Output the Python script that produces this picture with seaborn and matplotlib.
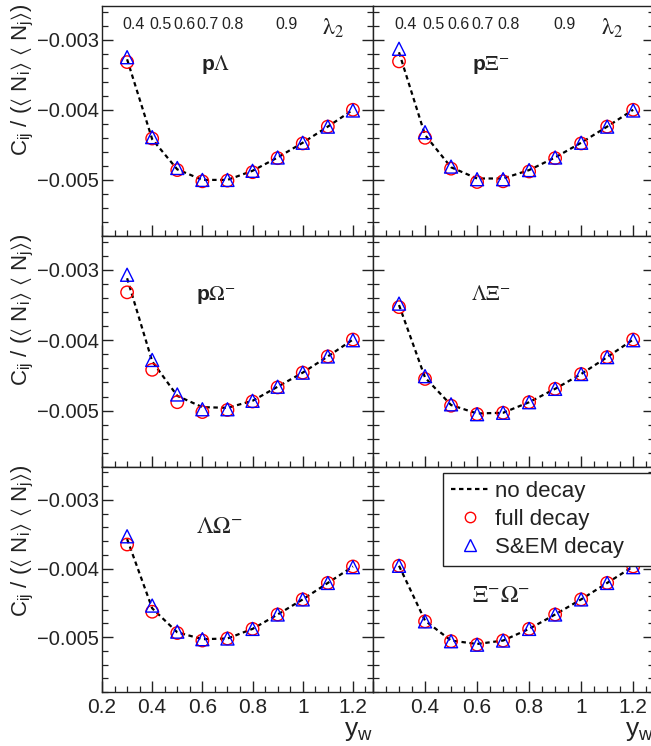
import numpy as np
import pandas as pd
import matplotlib
matplotlib.use("Agg")
import matplotlib.pyplot as plt
import seaborn as sns
from matplotlib.ticker import MultipleLocator, FuncFormatter, FixedLocator
from matplotlib.lines import Line2D
import matplotlib.transforms as mtransforms

sns.set_theme(style="white")
plt.rcParams["font.family"] = ["Liberation Sans", "DejaVu Sans"]
plt.rcParams["mathtext.fontset"] = "custom"
plt.rcParams["mathtext.rm"] = "Liberation Sans"
plt.rcParams["mathtext.it"] = "Liberation Sans:italic"
plt.rcParams["mathtext.bf"] = "Liberation Sans:bold"
plt.rcParams["mathtext.fallback"] = "stix"

# ---------------- data ----------------
y_w = [0.3, 0.4, 0.5, 0.6, 0.7, 0.8, 0.9, 1.0, 1.1, 1.2]

pair_labels = ["p$\\Lambda$", "p$\\Xi^{-}$", "p$\\Omega^{-}$",
               "$\\Lambda\\Xi^{-}$", "$\\Lambda\\Omega^{-}$", "$\\Xi^{-}\\Omega^{-}$"]

# p Lambda
pL_nodecay = [-0.00328, -0.00442, -0.00485, -0.00500, -0.00500, -0.00487, -0.00468, -0.00447, -0.00424, -0.00400]
pL_full    = [-0.00332, -0.00441, -0.00486, -0.00502, -0.00501, -0.00489, -0.00469, -0.00448, -0.00424, -0.00400]
pL_sem     = [-0.00325, -0.00439, -0.00483, -0.00500, -0.00500, -0.00487, -0.00468, -0.00447, -0.00424, -0.00401]
# p Xi-
pXi_nodecay = [-0.00318, -0.00436, -0.00482, -0.00498, -0.00498, -0.00486, -0.00468, -0.00447, -0.00424, -0.00400]
pXi_full    = [-0.00331, -0.00440, -0.00484, -0.00503, -0.00502, -0.00488, -0.00469, -0.00448, -0.00424, -0.00400]
pXi_sem     = [-0.00313, -0.00432, -0.00481, -0.00499, -0.00499, -0.00486, -0.00468, -0.00447, -0.00424, -0.00401]
# p Omega-
pO_nodecay = [-0.00312, -0.00430, -0.00479, -0.00495, -0.00496, -0.00486, -0.00466, -0.00446, -0.00423, -0.00399]
pO_full    = [-0.00332, -0.00442, -0.00488, -0.00502, -0.00499, -0.00487, -0.00467, -0.00446, -0.00423, -0.00399]
pO_sem     = [-0.00307, -0.00428, -0.00477, -0.00498, -0.00498, -0.00486, -0.00466, -0.00446, -0.00423, -0.00400]
# Lambda Xi-
LXi_nodecay = [-0.00350, -0.00453, -0.00492, -0.00504, -0.00503, -0.00488, -0.00469, -0.00448, -0.00424, -0.00399]
LXi_full    = [-0.00353, -0.00455, -0.00493, -0.00505, -0.00503, -0.00488, -0.00469, -0.00448, -0.00424, -0.00399]
LXi_sem     = [-0.00348, -0.00451, -0.00491, -0.00505, -0.00503, -0.00488, -0.00469, -0.00448, -0.00424, -0.00400]
# Lambda Omega-
LO_nodecay = [-0.00357, -0.00458, -0.00493, -0.00503, -0.00502, -0.00488, -0.00467, -0.00445, -0.00421, -0.00397]
LO_full    = [-0.00365, -0.00463, -0.00494, -0.00505, -0.00502, -0.00488, -0.00467, -0.00445, -0.00421, -0.00397]
LO_sem     = [-0.00353, -0.00454, -0.00492, -0.00503, -0.00502, -0.00488, -0.00467, -0.00445, -0.00421, -0.00398]
# Xi- Omega-
XO_nodecay = [-0.00396, -0.00476, -0.00505, -0.00510, -0.00505, -0.00488, -0.00467, -0.00445, -0.00421, -0.00397]
XO_full    = [-0.00396, -0.00477, -0.00506, -0.00511, -0.00505, -0.00488, -0.00467, -0.00445, -0.00421, -0.00397]
XO_sem     = [-0.00396, -0.00477, -0.00506, -0.00511, -0.00505, -0.00488, -0.00467, -0.00445, -0.00421, -0.00398]

nodecay = [pL_nodecay, pXi_nodecay, pO_nodecay, LXi_nodecay, LO_nodecay, XO_nodecay]
full = [pL_full, pXi_full, pO_full, LXi_full, LO_full, XO_full]
sem = [pL_sem, pXi_sem, pO_sem, LXi_sem, LO_sem, XO_sem]

lambda2_labels = ["0.4", "0.5", "0.6", "0.7", "0.8", "0.9"]
lambda2_pos = [0.324, 0.433, 0.527, 0.620, 0.720, 0.935]

rows = []
for k in range(6):
    for i, x in enumerate(y_w):
        rows.append(dict(panel=k, y_w=x, nodecay=nodecay[k][i], full=full[k][i], sem=sem[k][i]))
df = pd.DataFrame(rows)

# ---------------- figure ----------------
W, H = 651, 746
fig = plt.figure(figsize=(W / 100, H / 100), dpi=100)

col_x = [(102, 373), (373, 654)]
row_y = [(6, 236), (236, 467), (467, 692)]

def fmt_y(v, pos):
    return ("%.3f" % v).replace("-", "\u2212")

def fmt_x(v, pos):
    return "%g" % round(v, 3)

axes = []
for r in range(3):
    for c in range(2):
        k = r * 2 + c
        x0, x1 = col_x[c]
        y0, y1 = row_y[r]
        ax = fig.add_axes([x0 / W, 1 - y1 / H, (x1 - x0) / W, (y1 - y0) / H])
        axes.append(ax)
        d = df[df.panel == k]
        sns.lineplot(data=d, x="y_w", y="nodecay", ax=ax, color="black",
                     linestyle=(0, (2.0, 1.6)), linewidth=1.6, zorder=2)
        sns.scatterplot(data=d, x="y_w", y="full", ax=ax, marker="o", s=80,
                        facecolor="none", edgecolor="#ff0000", linewidth=1.0, zorder=3)
        sns.scatterplot(data=d, x="y_w", y="sem", ax=ax, marker="^", s=88,
                        facecolor="none", edgecolor="#0000ff", linewidth=1.0, zorder=4)
        ax.set_xlim(0.2, 1.28)
        ax.set_ylim(-0.0058, -0.00252)
        ax.set_xlabel("")
        ax.set_ylabel("")
        for s in ax.spines.values():
            s.set_color("#222222")
            s.set_linewidth(1.0)
            s.set_visible(True)
        ax.xaxis.set_major_locator(MultipleLocator(0.2))
        ax.xaxis.set_minor_locator(MultipleLocator(0.05))
        ax.yaxis.set_major_locator(MultipleLocator(0.001))
        ax.yaxis.set_minor_locator(MultipleLocator(0.0002))
        ax.tick_params(which="both", direction="in", bottom=True, top=False,
                       left=True, right=True, colors="#222222")
        ax.tick_params(which="major", length=8, width=1.0)
        ax.tick_params(which="minor", length=4.5, width=0.9)
        ax.tick_params(axis="y", labelsize=14.5, pad=2, labelcolor="#222222")
        ax.tick_params(axis="x", labelsize=15, pad=4, labelcolor="#222222")
        ax.yaxis.set_major_formatter(FuncFormatter(fmt_y))
        ax.xaxis.set_major_formatter(FuncFormatter(fmt_x))
        if c == 1:
            ax.tick_params(axis="y", labelleft=False)
        if r < 2:
            ax.tick_params(axis="x", labelbottom=False)
        else:
            ax.set_xlabel("y$_{\\rm w}$", loc="right", fontsize=19, labelpad=2, color="#222222")
            if c == 1:
                ax.xaxis.set_major_formatter(FuncFormatter(lambda v, p: "" if v < 0.3 else fmt_x(v, p)))
        if c == 0:
            ax.set_ylabel("C$_{\\rm ij}$ / ($\\langle$ N$_{\\rm i}$$\\rangle$ $\\langle$ N$_{\\rm j}$$\\rangle$)",
                          loc="top", fontsize=16, color="#222222")
            ax.yaxis.set_label_coords(-0.245, 1.01)
        # pair label
        if r < 2:
            px, py, fs = 0.42, 0.745, 15
        elif c == 0:
            px, py, fs = 0.435, 0.735, 17
        else:
            px, py, fs = 0.455, 0.43, 17
        ax.text(px, py, pair_labels[k], transform=ax.transAxes, ha="center", va="center",
                fontsize=fs, fontweight="bold", math_fontfamily="stix", color="#222222")
        # lambda_2 scale on top row
        if r == 0:
            trans = mtransforms.blended_transform_factory(ax.transData, ax.transAxes)
            for lp, lt in zip(lambda2_pos, lambda2_labels):
                ax.text(lp, 0.918, lt, transform=trans, ha="center", va="center",
                        fontsize=11.5, color="#222222")
            ax.text(1.12, 0.905, "$\\mathrm{\\lambda}_{2}$", transform=trans, ha="center", va="center",
                    fontsize=17, math_fontfamily="stix", color="#222222")

# legend in last panel
handles = [
    Line2D([], [], color="black", linestyle=(0, (2.0, 1.6)), linewidth=1.6),
    Line2D([], [], marker="o", linestyle="none", markerfacecolor="none",
           markeredgecolor="#ff0000", markersize=7.5, markeredgewidth=1.0),
    Line2D([], [], marker="^", linestyle="none", markerfacecolor="none",
           markeredgecolor="#0000ff", markersize=8, markeredgewidth=1.0),
]
leg = axes[5].legend(handles, ["no decay", "full decay", "S&EM decay"],
                     loc="upper left", bbox_to_anchor=(0.25, 0.569, 0.75, 0.404),
                     mode="expand", borderaxespad=0, fontsize=16, frameon=True,
                     fancybox=False, edgecolor="#222222", framealpha=1,
                     handlelength=1.7, handletextpad=0.3, labelspacing=0.32,
                     borderpad=0.35, labelcolor="#222222")
leg.get_frame().set_linewidth(1.0)

fig.savefig("out.png", dpi=100)
